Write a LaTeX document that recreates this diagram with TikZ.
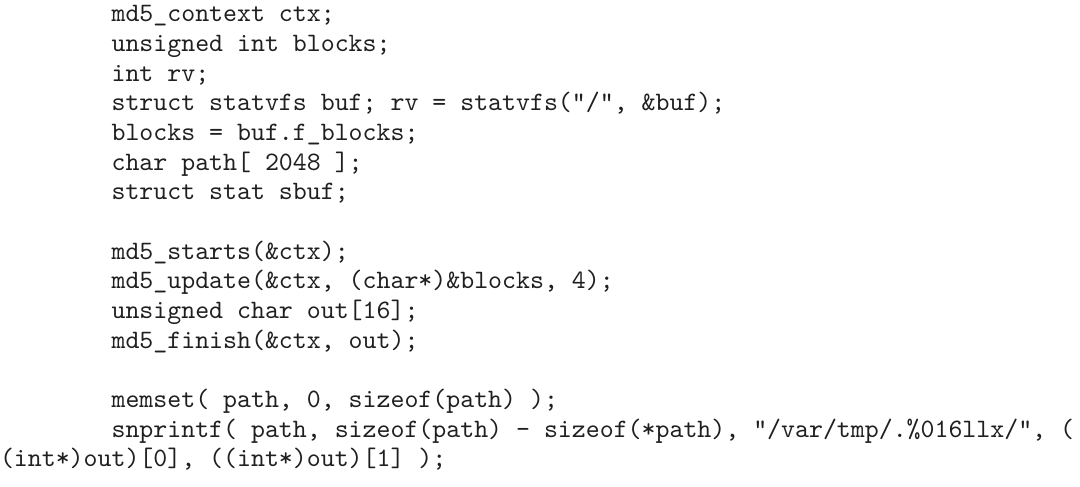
\documentclass[tikz,border=0pt]{standalone}
\newcommand\us{\char95 }
\newcommand\amp{\char38 }
\newcommand\pct{\char37 }
\newcommand\dq{\char34 }
\newcommand\code[1]{\scalebox{2.657}{\ttfamily\frenchspacing #1}}
\begin{document}
\begin{tikzpicture}[x=1pt,y=1pt,
  codeline/.style={anchor=base west,inner sep=0pt,outer sep=0pt,text=black!88}]
\useasboundingbox (0,0) rectangle (1080,-487);
\def\ind{111.6}
\def\lh{29.65}
\node[codeline] (l1) at (\ind,-22) {\code{md5\us context ctx;}};
\node[codeline] (l2) at (\ind,-22-1*\lh) {\code{unsigned int blocks;}};
\node[codeline] (l3) at (\ind,-22-2*\lh) {\code{int rv;}};
\node[codeline] (l4) at (\ind,-22-3*\lh) {\code{struct statvfs buf; rv = statvfs(\dq/\dq, \amp buf);}};
\node[codeline] (l5) at (\ind,-22-4*\lh) {\code{blocks = buf.f\us blocks;}};
\node[codeline] (l6) at (\ind,-22-5*\lh) {\code{char path[ 2048 ];}};
\node[codeline] (l7) at (\ind,-22-6*\lh) {\code{struct stat sbuf;}};
\node[codeline] (l9) at (\ind,-22-8*\lh) {\code{md5\us starts(\amp ctx);}};
\node[codeline] (l10) at (\ind,-22-9*\lh) {\code{md5\us update(\amp ctx, (char*)\amp blocks, 4);}};
\node[codeline] (l11) at (\ind,-22-10*\lh) {\code{unsigned char out[16];}};
\node[codeline] (l12) at (\ind,-22-11*\lh) {\code{md5\us finish(\amp ctx, out);}};
\node[codeline] (l14) at (\ind,-22-13*\lh) {\code{memset( path, 0, sizeof(path) );}};
\node[codeline] (l15) at (\ind,-22-14*\lh) {\code{snprintf( path, sizeof(path) - sizeof(*path), \dq/var/tmp/.\pct 016llx/\dq, (}};
\node[codeline] (l16) at (0,-22-15*\lh) {\code{(int*)out)[0], ((int*)out)[1] );}};
\end{tikzpicture}
\end{document}
